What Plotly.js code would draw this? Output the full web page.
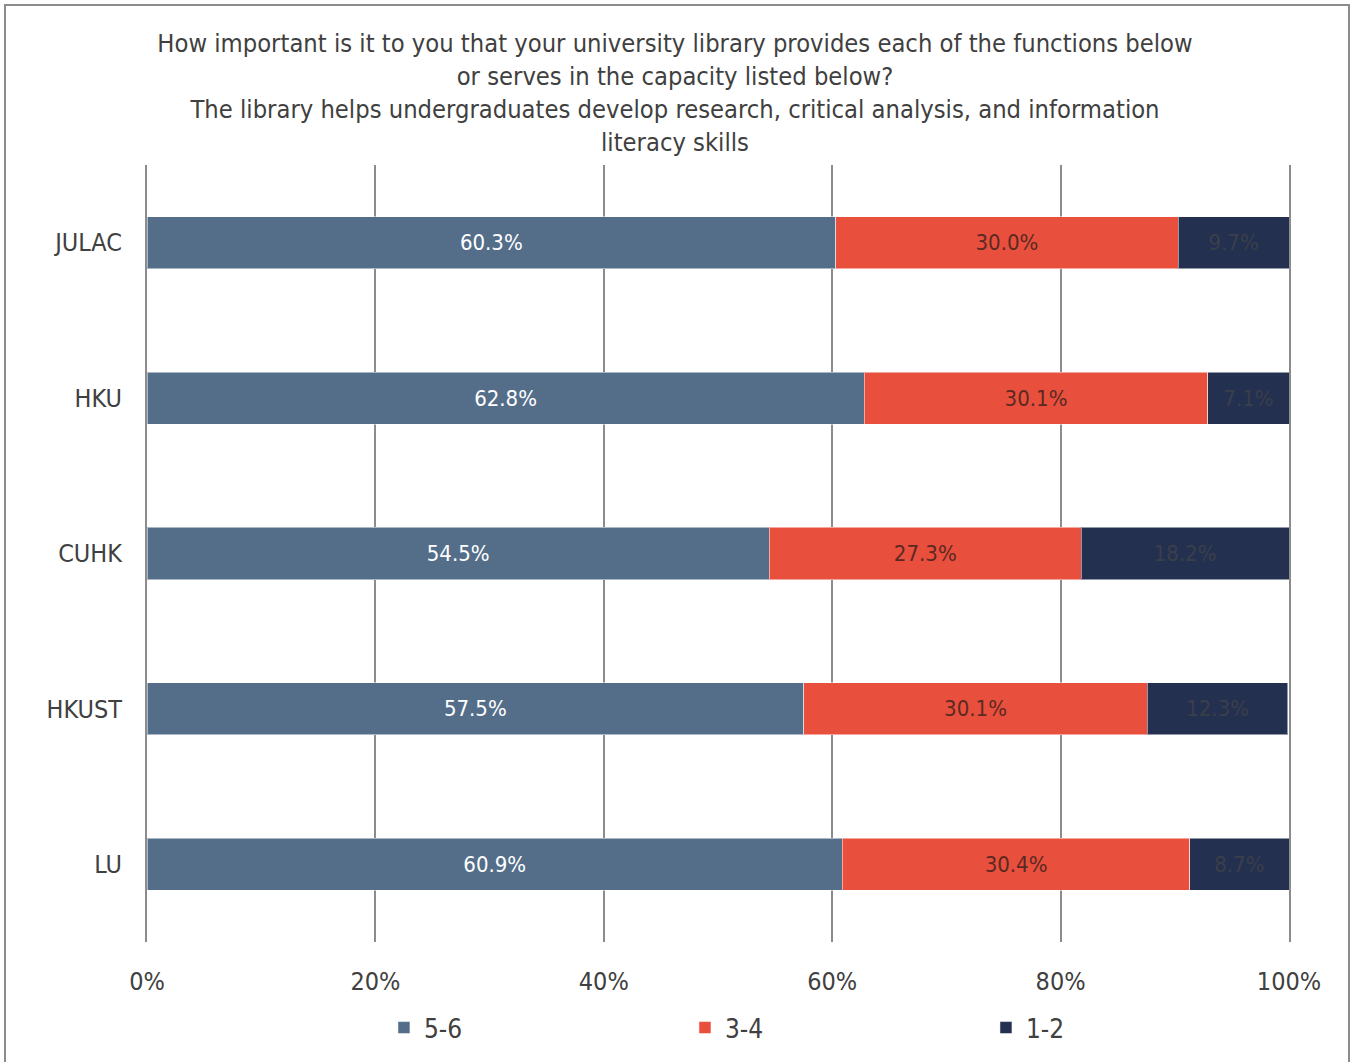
<!DOCTYPE html>
<html>
<head>
<meta charset="utf-8">
<script src="https://cdn.plot.ly/plotly-3.0.1.min.js"></script>
<style>
html,body{margin:0;padding:0;background:#fff;}
#chart{width:1350px;height:1062px;position:absolute;left:0;top:0;}
#frame{position:absolute;left:4px;top:4px;width:1342px;height:1070px;border:2px solid #8c8c8c;pointer-events:none;}
</style>
</head>
<body>
<div id="chart"></div>
<div id="frame"></div>
<script>
const categories = ["JULAC", "HKU", "CUHK", "HKUST", "LU"];
const seriesNames = ["5-6", "3-4", "1-2"];
const v56 = [60.3, 62.8, 54.5, 57.5, 60.9];
const v34 = [30.0, 30.1, 27.3, 30.1, 30.4];
const v12 = [9.7, 7.1, 18.2, 12.3, 8.7];
const tickVals = [0, 20, 40, 60, 80, 100];
const tickText = ["0%", "20%", "40%", "60%", "80%", "100%"];

const FONT = '"Liberation Sans Narrow", "DejaVu Sans Condensed", "Roboto", sans-serif';
const colors = ["#546E8A", "#E94F3D", "#233050"];
const textColors = ["#ffffff", "#5a2a22", "#3a3f4a"];
const values = [v56, v34, v12];

const traces = values.map((vals, i) => ({
  type: "bar",
  orientation: "h",
  name: seriesNames[i],
  y: categories,
  x: vals,
  text: vals.map(v => v.toFixed(1) + "%"),
  textposition: "inside",
  insidetextanchor: "middle",
  textangle: 0,
  textfont: {family: FONT, size: 22, color: textColors[i]},
  marker: {color: colors[i], line: {color: "rgba(255,255,255,0.5)", width: 1}},
  hoverinfo: "skip",
  cliponaxis: false
}));

const layout = {
  width: 1350,
  height: 1062,
  paper_bgcolor: "#ffffff",
  plot_bgcolor: "#ffffff",
  barmode: "stack",
  bargap: 0.665,
  margin: {l: 147, r: 61, t: 165, b: 120, autoexpand: false},
  font: {family: FONT, color: "#404040"},
  title: {
    text: "How important is it to you that your university library provides each of the functions below<br>or serves in the capacity listed below?<br>The library helps undergraduates develop research, critical analysis, and information<br>literacy skills",
    font: {family: FONT, size: 25.3, color: "#404040"},
    x: 0.5, xanchor: "center", y: 0.951, yanchor: "top"
  },
  xaxis: {
    range: [0, 100],
    tickvals: tickVals,
    ticktext: tickText,
    showgrid: true,
    gridcolor: "#8c8c8c",
    gridwidth: 2,
    zeroline: false,
    showline: false,
    ticks: "",
    ticklabelstandoff: 22,
    tickfont: {family: FONT, size: 25, color: "#404040"},
    fixedrange: true
  },
  yaxis: {
    autorange: false,
    range: [4.5, -0.5],
    type: "category",
    showgrid: false,
    zeroline: false,
    showline: true,
    mirror: true,
    linecolor: "#8c8c8c",
    linewidth: 2,
    ticks: "",
    ticklabelstandoff: 18,
    tickfont: {family: FONT, size: 25, color: "#404040"},
    fixedrange: true
  },
  legend: {
    orientation: "h",
    x: 0.2075, xanchor: "left",
    y: -0.08, yanchor: "top",
    font: {family: FONT, size: 26, color: "#404040"},
    entrywidth: 256,
    entrywidthmode: "pixels",
    itemwidth: 30,
    traceorder: "normal"
  },
  showlegend: true
};

Plotly.newPlot("chart", traces, layout, {displayModeBar: false, staticPlot: true});
</script>
</body>
</html>
